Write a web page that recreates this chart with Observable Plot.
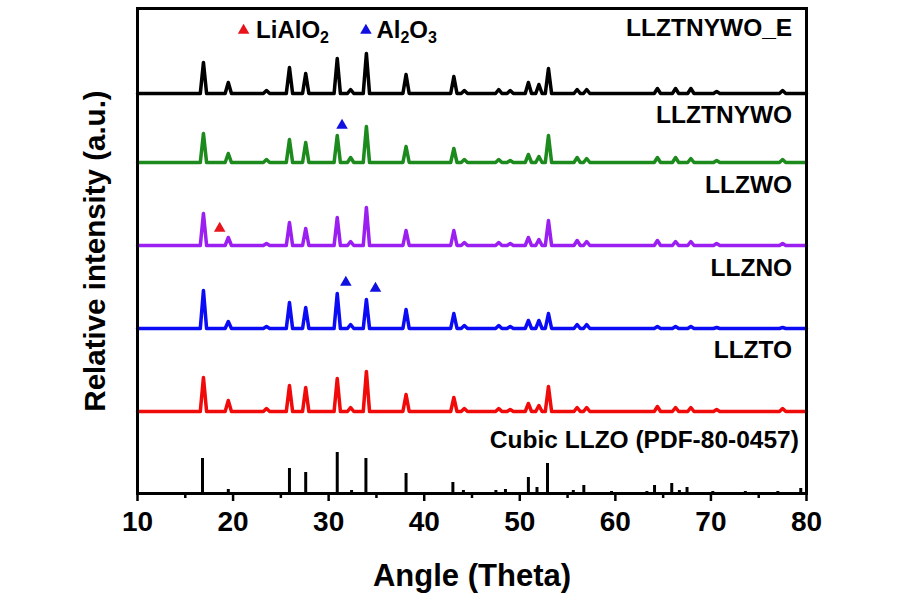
<!DOCTYPE html>
<html><head><meta charset="utf-8">
<script src="https://cdn.jsdelivr.net/npm/d3@7"></script>
<script src="https://cdn.jsdelivr.net/npm/@observablehq/plot@0.6"></script>
<style>
body{margin:0;background:#fff}
#chart svg{font-family:"Liberation Sans",Arial,sans-serif;font-weight:bold}
</style>
</head><body><div id="chart"></div>
<script>
// ---- data ----
const peakAngles = [16.9, 19.5, 23.5, 25.9, 27.6, 30.9, 32.3, 33.95, 38.1, 43.1, 44.2, 47.8, 49.0, 50.9, 52.0, 53.0, 56.0, 57.0, 64.4, 66.3, 67.9, 70.6, 77.5];
const seriesNames = ["LLZTNYWO_E", "LLZTNYWO", "LLZWO", "LLZNO", "LLZTO"];
const seriesColors = ["#000000", "#1d8a1d", "#9b1ff0", "#0b0bf5", "#f00a0a"];
const seriesOffsets = [400, 331, 248, 165, 82];
const heightsE     = [31, 11, 3, 26, 20, 35, 4, 40, 19, 17, 3, 4, 3, 11, 9, 25, 4, 4, 5, 5, 5, 2, 3];
const heightsTNYWO = [29, 9, 3, 23, 20, 27, 5, 36, 16, 14, 3, 3, 2, 8, 6, 27, 5, 4, 5, 5, 4, 2, 3];
const heightsWO    = [32, 8, 2, 23, 17, 28, 4, 38, 15, 15, 3, 3, 2, 8, 6, 25, 5, 4, 5, 4, 4, 2, 2];
const heightsNO    = [38, 7, 2, 26, 21, 35, 4, 29, 19, 15, 3, 3, 2, 8, 8, 15, 4, 4, 2, 2, 2, 1, 1];
const heightsTO    = [34, 11, 3, 26, 24, 33, 4, 40, 17, 14, 3, 3, 2, 8, 6, 25, 4, 4, 5, 4, 4, 2, 3];
const refName = "Cubic LLZO (PDF-80-0457)";
const refAngles  = [16.8, 19.5, 25.9, 27.6, 30.9, 32.4, 33.9, 38.1, 43.0, 44.1, 47.5, 48.5, 50.9, 51.8, 52.9, 55.6, 56.7, 59.6, 63.3, 64.1, 65.9, 66.7, 67.5, 70.2, 73.6, 77.0, 79.4];
const refHeights = [35, 4, 25, 21, 41, 3, 35, 20, 11, 3, 3, 4, 16, 6, 30, 3, 8, 2, 2, 8, 10, 3, 6, 2, 2, 2, 5];
const labelNames = ["LLZTNYWO_E", "LLZTNYWO", "LLZWO", "LLZNO", "LLZTO", refName];
const labelLevels = [465, 378, 308, 225, 143, 53];
const liAlO2Angles = [18.6];
const liAlO2Levels = [265];
const al2O3Angles = [31.4, 31.8, 34.9];
const al2O3Levels = [368, 211, 205];
const legendAngles = [21.1, 33.9];
const legendLevel = 463;
const xTicks = [10, 20, 30, 40, 50, 60, 70, 80];
const xMinorTicks = [15, 25, 35, 45, 55, 65, 75];

// ---- build tables ----
const heights = [heightsE, heightsTNYWO, heightsWO, heightsNO, heightsTO];
const rows = [];
seriesNames.forEach((name, i) => {
  const off = seriesOffsets[i];
  rows.push({name, angle: 10, I: off});
  peakAngles.forEach((p, j) => {
    rows.push({name, angle: p - 0.33, I: off});
    rows.push({name, angle: p, I: off + heights[i][j]});
    rows.push({name, angle: p + 0.33, I: off});
  });
  rows.push({name, angle: 80, I: off});
});
const sticks = refAngles.map((a, i) => ({angle: a, h: refHeights[i]}));
const labels = labelNames.map((n, i) => ({name: n, y: labelLevels[i]}));
const redMarks = liAlO2Angles.map((a, i) => ({angle: a, y: liAlO2Levels[i]}));
const blueMarks = al2O3Angles.map((a, i) => ({angle: a, y: al2O3Levels[i]}));
const legendMarks = [{angle: legendAngles[0], y: legendLevel, c: "#e8141c"}, {angle: legendAngles[1], y: legendLevel, c: "#1010e0"}];

const plot = Plot.plot({
  width: 900, height: 600,
  marginLeft: 137, marginRight: 94, marginTop: 8, marginBottom: 107,
  x: {domain: [10, 80]},
  y: {domain: [0, 485], axis: null},
  color: {domain: seriesNames, range: seriesColors},
  marks: [
    Plot.axisX({ticks: xMinorTicks, tickSize: 5, tickFormat: () => "", strokeWidth: 2.5, label: null}),
    Plot.axisX({ticks: xTicks, tickSize: 8, tickPadding: 10, fontSize: 28, fontWeight: "bold", strokeWidth: 2.5, label: null, fill: "#000"}),
    Plot.line(rows, {x: "angle", y: "I", z: "name", stroke: "name", strokeWidth: 3.5, strokeLinejoin: "round"}),
    Plot.ruleX(sticks, {x: "angle", y1: 0, y2: "h", strokeWidth: 3, stroke: "#000"}),
    Plot.dot(redMarks, {x: "angle", y: "y", symbol: "triangle", r: 4.3, fill: "#e8141c", stroke: null}),
    Plot.dot(blueMarks, {x: "angle", y: "y", symbol: "triangle", r: 4.3, fill: "#1010e0", stroke: null}),
    Plot.dot(legendMarks, {x: "angle", y: "y", symbol: "triangle", r: 4.3, fill: d => d.c, stroke: null}),
    Plot.text(labels.slice(0, 5), {x: 78.5, y: "y", text: "name", textAnchor: "end", fontSize: 24.5, fontWeight: "bold", fill: "#000"}),
    Plot.text(labels.slice(5), {x: 79.2, y: "y", text: "name", textAnchor: "end", fontSize: 24.5, fontWeight: "bold", fill: "#000"}),
    Plot.text(["Angle (Theta)"], {frameAnchor: "bottom", dy: 92, fontSize: 31, fontWeight: "bold", fill: "#000"}),
    Plot.text(["Relative intensity (a.u.)"], {frameAnchor: "left", dx: -42, rotate: -90, textAnchor: "middle", fontSize: 29.5, fontWeight: "bold", fill: "#000"}),
    Plot.frame({stroke: "#000", strokeWidth: 3})
  ]
});
document.getElementById("chart").appendChild(plot);

// legend text with subscripts, positioned from the plot's scales
const sx = plot.scale("x"), sy = plot.scale("y");
const svg = d3.select(plot);
const ly = sy.apply(legendLevel) + 8;
function chem(x, parts) {
  const t = svg.append("text").attr("x", x).attr("y", ly).attr("text-anchor", "start")
    .attr("font-size", 24).attr("font-weight", "bold").attr("fill", "#000");
  let lowered = false;
  parts.forEach(s => {
    const isSub = /^[0-9]$/.test(s);
    const ts = t.append("tspan").text(s);
    if (isSub && !lowered) { ts.attr("font-size", 16).attr("dy", 5); lowered = true; }
    else if (isSub) { ts.attr("font-size", 16); }
    else if (lowered) { ts.attr("dy", -5); lowered = false; }
  });
}
chem(sx.apply(legendAngles[0]) + 13, ["LiAlO", "2"]);
chem(sx.apply(legendAngles[1]) + 11, ["Al", "2", "O", "3"]);
</script>
</body></html>
